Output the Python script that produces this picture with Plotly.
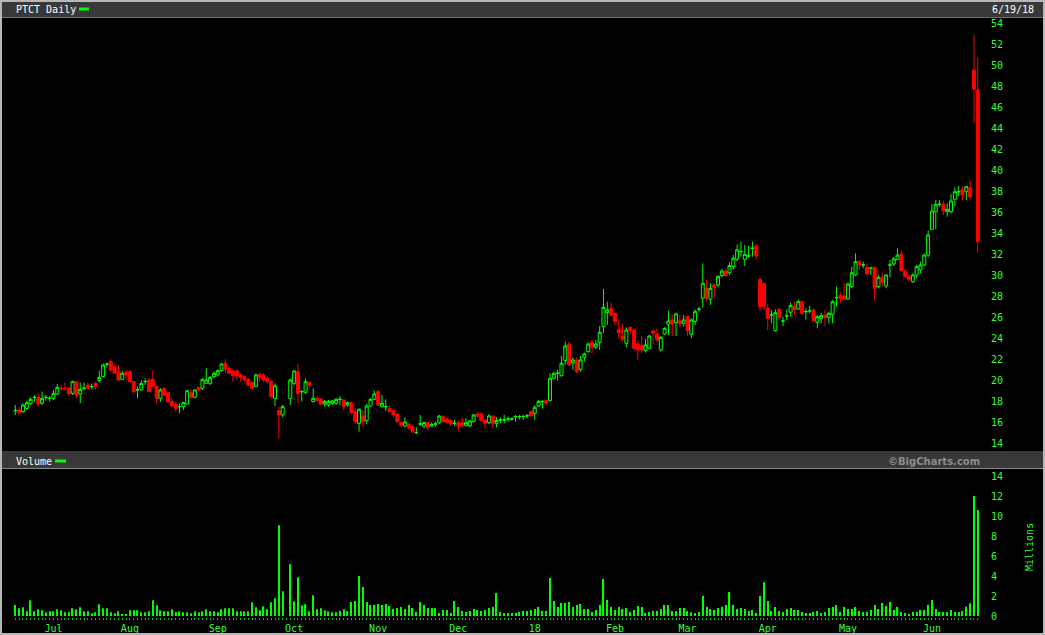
import pandas as pd
import plotly.graph_objects as go

# ---------------- data ----------------
HOLIDAYS = ["2017-07-04", "2017-09-04", "2017-11-23", "2017-12-25", "2018-01-01",
            "2018-01-15", "2018-02-19", "2018-03-30", "2018-05-28"]
dates = pd.bdate_range("2017-06-19", "2018-06-19", freq="C", holidays=HOLIDAYS)

opens = [
    17.06, 17.14, 16.98, 17.30, 17.78, 18.33, 18.35, 17.78, 18.33, 18.24,
    18.25, 18.67, 19.22, 19.22, 19.21, 18.73, 19.84, 18.67, 19.20, 19.52,
    19.36, 19.68, 19.94, 20.32, 21.50, 21.75, 21.27, 20.79, 20.06, 20.73,
    20.79, 19.84, 19.04, 19.05, 19.83, 20.00, 20.06, 19.37, 18.25, 19.21,
    18.79, 17.94, 17.71, 17.45, 17.46, 17.71, 18.79, 18.35, 19.27, 19.21,
    19.68, 19.68, 20.32, 20.48, 20.89, 21.59, 21.11, 20.86, 20.86, 20.51,
    20.32, 20.06, 19.75, 19.37, 20.54, 20.48, 20.16, 19.84, 18.25, 17.08,
    16.67, None, 18.25, 19.68, 20.79, 18.88, 18.79, 19.75, 17.94, 18.25,
    18.19, 17.71, 17.62, 17.78, 17.78, 18.15, 18.10, 17.62, 17.84, 16.98,
    15.87, 16.57, 16.13, 17.52, 18.16, 18.89, 17.46, 17.45, 17.30, 17.08,
    16.76, 15.94, 15.62, 15.81, 15.56, 14.98, 15.80, 15.62, 15.94, 15.62,
    15.80, 15.94, 16.51, 16.29, 16.13, 15.86, 15.94, 15.94, 15.68, 15.62,
    16.03, 16.76, 16.76, 16.19, 15.94, 16.57, 15.87, 16.18, 16.18, 16.28,
    16.27, 16.50, 16.50, 16.51, 16.57, 16.98, 16.83, 17.52, 17.93, 18.03,
    18.03, 20.16, 20.63, 20.41, 21.84, 23.43, 21.65, 21.91, 21.02, 22.16,
    22.70, 23.59, 23.12, 23.56, 25.08, 26.42, 26.83, 26.35, 24.83, 24.19,
    23.50, 25.02, 24.76, 23.43, 23.27, 22.80, 23.02, 24.67, 24.38, 22.86,
    24.38, 25.31, 25.72, 25.46, 25.62, 25.40, 26.04, 24.35, 25.56, 26.72,
    27.78, 28.73, 27.69, 29.05, 29.05, 29.94, 30.38, 30.20, 30.80, 31.50,
    32.22, 31.49, 31.80, 32.53, 32.76, 29.59, 29.21, 26.83, 26.19, 24.70,
    26.73, 25.61, 26.09, 26.45, 26.99, 26.76, 27.46, 26.50, 26.56, 26.67,
    25.49, 25.87, 26.19, 25.97, 26.26, 27.84, 28.03, 28.00, 27.72, 28.89,
    30.00, 31.27, 30.94, 30.73, 30.63, 30.73, 28.89, 29.78, 28.95, 30.94,
    31.05, 31.49, 32.00, 30.38, 29.84, 29.36, 30.00, 30.48, 30.95, 31.90,
    34.35, 36.03, 36.72, 36.76, 36.03, 36.03, 37.21, 37.92, 38.16, 37.94,
    38.32, 49.52, 47.62,
]
highs = [
    17.62, 17.46, 17.78, 18.03, 18.35, 18.57, 18.73, 18.89, 18.57, 18.48,
    19.05, 19.62, 19.52, 19.75, 19.37, 19.94, 19.90, 19.75, 19.75, 19.75,
    19.68, 19.84, 20.89, 21.59, 21.65, 21.97, 21.43, 21.43, 20.89, 20.95,
    20.95, 19.90, 19.37, 20.00, 20.16, 20.16, 20.89, 19.40, 19.21, 19.25,
    18.85, 18.25, 17.94, 17.78, 17.94, 19.05, 19.11, 19.11, 19.37, 20.16,
    21.11, 20.38, 20.79, 21.02, 21.65, 21.97, 21.27, 21.02, 21.02, 20.64,
    20.48, 20.16, 19.84, 20.64, 20.70, 20.64, 20.32, 20.00, 19.68, 17.46,
    17.62, None, 20.16, 20.95, 21.52, 19.05, 20.16, 19.84, 19.21, 18.41,
    18.25, 18.10, 18.10, 18.10, 18.25, 18.48, 18.15, 17.94, 17.94, 17.30,
    17.30, 17.14, 17.71, 18.25, 18.98, 19.05, 18.57, 18.16, 17.62, 17.21,
    16.80, 16.13, 16.44, 15.87, 15.71, 15.49, 16.67, 16.03, 16.03, 15.94,
    16.03, 16.67, 16.67, 16.44, 16.25, 16.19, 16.13, 16.44, 16.35, 16.19,
    16.76, 16.98, 16.89, 16.25, 16.76, 16.67, 16.44, 16.44, 16.67, 16.51,
    16.44, 16.67, 16.67, 16.67, 16.76, 17.14, 17.62, 18.10, 18.10, 18.16,
    20.64, 20.79, 20.95, 22.29, 23.65, 23.65, 22.16, 22.16, 22.29, 22.61,
    23.56, 23.81, 23.81, 25.15, 28.67, 27.46, 27.37, 26.51, 25.65, 25.34,
    25.02, 25.08, 24.92, 23.81, 24.19, 23.88, 24.29, 24.83, 24.92, 24.19,
    25.02, 26.61, 26.29, 26.42, 26.19, 26.19, 26.10, 25.88, 26.73, 26.99,
    31.10, 29.53, 29.21, 29.21, 30.00, 30.60, 30.60, 31.20, 31.90, 32.90,
    33.17, 32.86, 32.76, 33.17, 32.95, 29.68, 29.27, 27.24, 26.67, 26.73,
    26.83, 26.03, 26.67, 27.37, 27.46, 27.62, 27.56, 26.83, 27.05, 26.83,
    26.19, 26.41, 26.73, 26.51, 27.62, 28.89, 28.41, 29.27, 29.27, 30.79,
    32.06, 31.43, 31.27, 31.11, 30.79, 30.79, 30.00, 30.16, 30.05, 31.43,
    31.74, 32.54, 32.32, 30.63, 30.09, 30.16, 30.95, 31.27, 32.06, 34.22,
    36.76, 37.14, 37.14, 37.08, 36.82, 37.71, 38.35, 38.47, 38.47, 38.47,
    38.98, 52.86, 50.73,
]
lows = [
    16.67, 16.67, 16.89, 17.14, 17.62, 17.94, 17.46, 17.62, 18.03, 17.94,
    18.10, 18.57, 18.98, 19.05, 18.57, 18.57, 18.25, 17.78, 18.98, 19.11,
    19.11, 19.11, 19.75, 20.25, 21.27, 20.79, 20.60, 19.94, 20.00, 20.06,
    19.80, 18.79, 18.25, 19.00, 19.52, 18.85, 19.30, 17.78, 17.94, 18.41,
    17.78, 17.46, 16.98, 16.83, 17.14, 17.71, 18.25, 18.25, 18.89, 19.05,
    19.68, 19.52, 20.16, 20.32, 20.79, 20.64, 20.60, 19.84, 20.00, 19.84,
    19.84, 19.37, 19.05, 19.33, 19.84, 19.84, 19.68, 18.25, 17.52, 14.44,
    16.44, None, 17.62, 19.52, 17.84, 17.94, 18.73, 19.21, 17.84, 17.94,
    17.62, 17.46, 17.46, 17.62, 17.62, 17.62, 17.14, 17.46, 16.85, 15.87,
    15.08, 15.49, 15.81, 17.46, 18.10, 17.52, 17.40, 17.08, 16.89, 16.51,
    15.94, 15.49, 15.49, 15.30, 14.92, 14.83, 15.62, 15.40, 15.17, 15.56,
    15.56, 15.81, 15.94, 15.87, 15.62, 15.62, 15.08, 15.49, 15.56, 15.49,
    15.94, 16.44, 16.03, 15.40, 15.81, 15.49, 15.49, 15.87, 15.87, 16.03,
    16.13, 16.03, 16.25, 16.19, 16.35, 16.51, 16.19, 17.46, 17.30, 17.62,
    17.98, 20.06, 19.94, 20.32, 21.43, 21.33, 20.96, 20.64, 20.80, 21.75,
    22.61, 22.54, 22.92, 22.86, 24.45, 25.24, 26.04, 25.24, 23.97, 23.65,
    23.12, 24.45, 22.92, 21.91, 22.54, 22.61, 22.92, 23.43, 23.65, 22.70,
    24.29, 24.29, 24.19, 24.19, 25.02, 25.08, 24.19, 23.97, 25.24, 26.51,
    26.92, 27.46, 27.15, 27.78, 28.83, 29.78, 29.85, 30.00, 30.50, 31.30,
    31.74, 30.86, 31.68, 31.74, 31.49, 26.51, 26.67, 24.76, 25.40, 24.60,
    25.72, 25.14, 25.72, 26.03, 26.19, 26.67, 26.19, 25.78, 26.35, 25.56,
    24.92, 25.40, 25.14, 25.40, 25.40, 26.99, 27.30, 27.68, 27.62, 28.73,
    29.90, 30.48, 30.63, 29.90, 30.00, 27.55, 28.73, 28.89, 28.73, 29.78,
    30.86, 31.43, 30.32, 29.78, 29.36, 29.27, 29.68, 30.16, 30.86, 31.68,
    34.28, 34.35, 36.51, 35.71, 35.55, 35.87, 36.57, 37.52, 37.08, 37.14,
    37.21, 44.45, 32.13,
]
closes = [
    17.10, 16.89, 17.62, 17.84, 18.16, 18.35, 17.71, 18.25, 18.35, 18.26,
    18.73, 19.30, 19.20, 19.20, 18.67, 19.84, 18.57, 19.11, 19.22, 19.21,
    19.38, 19.37, 20.25, 21.43, 21.52, 20.95, 20.64, 20.00, 20.64, 20.48,
    19.84, 18.89, 19.06, 19.68, 19.85, 18.89, 19.37, 18.25, 19.05, 18.57,
    17.94, 17.52, 17.30, 17.47, 17.84, 18.98, 18.35, 19.05, 19.05, 20.06,
    20.00, 20.25, 20.64, 20.89, 21.52, 21.02, 20.64, 20.41, 20.41, 20.25,
    20.00, 19.52, 19.21, 20.48, 20.22, 20.00, 19.84, 18.41, 19.43, 16.67,
    17.46, None, 20.00, 20.86, 18.73, 18.90, 19.84, 19.52, 18.25, 18.03,
    17.71, 17.94, 17.94, 18.00, 18.16, 18.17, 17.46, 17.84, 16.89, 16.03,
    17.21, 16.03, 17.52, 18.16, 18.67, 17.62, 17.78, 17.47, 16.98, 16.67,
    16.03, 15.71, 16.00, 15.49, 15.08, 15.00, 15.82, 15.94, 15.49, 15.78,
    15.82, 16.57, 16.03, 15.97, 15.81, 15.88, 15.62, 15.62, 15.94, 16.10,
    16.67, 16.57, 16.13, 15.87, 16.57, 15.87, 16.13, 16.20, 16.20, 16.30,
    16.29, 16.52, 16.52, 16.53, 16.59, 16.57, 17.40, 17.94, 17.95, 17.78,
    20.16, 20.64, 20.65, 21.59, 23.24, 21.43, 21.91, 20.80, 21.91, 22.48,
    23.43, 23.12, 23.43, 24.54, 26.92, 26.67, 26.19, 25.56, 24.51, 23.88,
    24.76, 24.70, 23.02, 22.86, 22.86, 23.34, 24.19, 24.45, 23.81, 24.07,
    24.92, 25.62, 25.34, 26.29, 25.34, 25.72, 24.70, 25.72, 26.51, 26.74,
    29.21, 27.78, 28.73, 28.83, 29.85, 30.38, 29.94, 30.90, 31.60, 32.40,
    32.24, 31.97, 31.82, 32.55, 31.81, 26.99, 26.99, 25.87, 26.21, 26.41,
    25.97, 25.63, 26.11, 27.08, 26.67, 27.46, 26.35, 26.52, 26.58, 25.65,
    26.03, 26.13, 25.94, 26.35, 27.46, 27.86, 27.78, 27.68, 29.14, 30.22,
    31.27, 30.95, 30.96, 30.10, 30.65, 28.73, 29.78, 29.30, 30.00, 30.96,
    31.52, 31.90, 30.41, 29.84, 29.59, 30.00, 30.79, 30.95, 31.90, 33.81,
    36.09, 36.73, 36.74, 36.13, 36.25, 37.05, 37.93, 37.94, 37.62, 38.41,
    37.46, 47.71, 33.17,
]
volume_m = [
    1.10, 0.77, 0.87, 0.47, 1.57, 0.47, 0.67, 0.57, 0.37, 0.47,
    0.47, 0.67, 0.57, 0.37, 0.37, 0.77, 0.67, 0.87, 0.47, 0.47,
    0.27, 0.37, 1.17, 0.77, 0.77, 0.37, 0.27, 0.47, 0.17, 0.17,
    0.57, 0.57, 0.57, 0.37, 0.37, 0.47, 1.57, 1.07, 0.57, 0.47,
    0.47, 0.67, 0.37, 0.47, 0.37, 0.37, 0.27, 0.47, 0.37, 0.47,
    0.67, 0.47, 0.47, 0.37, 0.67, 0.77, 0.77, 0.77, 0.47, 0.47,
    0.47, 0.47, 1.37, 0.87, 0.57, 0.97, 0.67, 1.37, 1.77, 9.07,
    2.47, None, 5.17, 1.47, 3.87, 1.07, 1.17, 0.47, 2.07, 0.67,
    0.77, 0.57, 0.47, 0.37, 0.37, 0.50, 0.67, 0.50, 1.40, 1.50,
    4.00, 2.90, 1.40, 1.10, 1.10, 1.20, 1.10, 1.20, 1.00, 0.70,
    0.80, 0.90, 0.70, 1.10, 0.80, 0.40, 1.40, 1.10, 0.80, 0.80,
    0.80, 0.30, 0.60, 0.60, 0.30, 1.50, 0.90, 0.50, 0.40, 0.50,
    0.70, 0.60, 0.50, 0.60, 0.80, 0.90, 2.30, 0.40, 0.30, 0.30,
    0.30, 0.30, 0.40, 0.50, 0.50, 0.60, 0.70, 0.90, 0.50, 0.50,
    3.80, 1.50, 0.90, 1.30, 1.30, 1.40, 0.90, 1.10, 1.20, 0.70,
    0.70, 0.40, 0.60, 1.10, 3.70, 1.60, 0.90, 0.60, 0.90, 0.70,
    0.80, 0.40, 0.60, 1.00, 0.90, 0.30, 0.40, 0.50, 0.50, 0.70,
    1.10, 1.10, 0.50, 0.50, 0.80, 0.80, 0.50, 0.37, 0.30, 0.40,
    2.03, 0.90, 0.70, 0.60, 0.80, 0.93, 1.10, 2.40, 1.10, 0.70,
    0.80, 0.70, 0.50, 0.60, 0.30, 2.00, 3.37, 1.50, 0.50, 0.90,
    0.50, 0.40, 0.70, 0.80, 0.60, 0.60, 0.40, 0.30, 0.30, 0.40,
    0.50, 0.30, 0.40, 0.80, 0.90, 1.10, 0.40, 0.90, 0.70, 0.70,
    0.90, 0.50, 0.40, 0.40, 0.60, 1.10, 0.70, 1.30, 1.00, 1.40,
    0.60, 0.90, 0.40, 0.30, 0.20, 0.40, 0.40, 0.60, 0.60, 1.10,
    1.60, 0.70, 0.40, 0.40, 0.40, 0.60, 0.40, 0.40, 0.50, 0.93,
    1.27, 12.00, 10.60,
]
price_ticks = list(range(14, 55, 2))
volume_ticks = list(range(0, 15, 2))
title_text = "PTCT Daily"
date_text = "6/19/18"

# ---------------- geometry helpers ----------------
W, H = 1045, 635
def px(x):
    return x / W
def py(y):
    return 1 - y / H

idx = list(range(len(opens)))
n = min(len(dates), len(idx))

# daily ticks with month labels
tickvals, ticktext = [], []
for i in idx:
    tickvals.append(i)
    label = ""
    if 0 < i < n and dates[i].month != dates[i - 1].month:
        label = "18" if dates[i].month == 1 else dates[i].strftime("%b")
    ticktext.append(label)

GREEN = "#00ff00"
TXT_GREEN = "#33ff33"
RED = "#ff0000"
MONO = "DejaVu Sans Mono"

fig = go.Figure()
fig.add_trace(go.Candlestick(
    x=idx, open=opens, high=highs, low=lows, close=closes,
    increasing=dict(line=dict(color=GREEN, width=1), fillcolor="#000000"),
    decreasing=dict(line=dict(color=RED, width=1), fillcolor=RED),
    whiskerwidth=0, hoverinfo="skip", xaxis="x", yaxis="y",
))
fig.add_trace(go.Bar(
    x=idx, y=volume_m, width=0.32, marker=dict(color=GREEN, line=dict(width=0)),
    xaxis="x2", yaxis="y2", hoverinfo="skip",
))

xr = [-2.7, 255.2]
xdom = [px(5), px(990)]

fig.update_layout(
    width=W, height=H, autosize=False,
    margin=dict(l=0, r=0, t=0, b=0, pad=0, autoexpand=False),
    paper_bgcolor="#000000", plot_bgcolor="#000000",
    showlegend=False, boxgap=0.22, boxgroupgap=0,
    font=dict(family=MONO, size=10, color=TXT_GREEN),
    xaxis=dict(domain=xdom, range=xr, anchor="y", showticklabels=False, ticks="",
               showgrid=False, zeroline=False, showline=False, automargin=False,
               rangeslider=dict(visible=False)),
    yaxis=dict(domain=[py(451), py(18)], range=[13.238, 54.476], side="right",
               tickvals=price_ticks, ticks="", showgrid=False, zeroline=False,
               showline=False, automargin=False,
               tickfont=dict(family=MONO, size=10, color=TXT_GREEN)),
    xaxis2=dict(domain=xdom, range=xr, anchor="y2", tickmode="array",
                tickvals=tickvals, ticktext=ticktext, ticks="outside", ticklen=2,
                tickwidth=1, tickcolor="#00c800", showgrid=False, zeroline=False,
                showline=False, tickangle=0, automargin=False,
                tickfont=dict(family=MONO, size=10, color=TXT_GREEN)),
    yaxis2=dict(domain=[py(617), py(469)], range=[-0.1, 14.7], side="right",
                tickvals=volume_ticks, ticks="", showgrid=False, zeroline=False,
                showline=False, anchor="x2", automargin=False,
                tickfont=dict(family=MONO, size=10, color=TXT_GREEN)),
)

shapes = [
    # header strips
    dict(type="rect", x0=px(2), x1=px(1043), y0=py(17), y1=py(2),
         fillcolor="#383838", line=dict(width=0)),
    dict(type="line", x0=px(2), x1=px(1043), y0=py(17.5), y1=py(17.5),
         line=dict(color="#6e6e6e", width=1)),
    dict(type="rect", x0=px(2), x1=px(1043), y0=py(468), y1=py(451),
         fillcolor="#383838", line=dict(width=0)),
    dict(type="line", x0=px(2), x1=px(1043), y0=py(468.5), y1=py(468.5),
         line=dict(color="#8a8a8a", width=1)),
    # legend dashes
    dict(type="rect", x0=px(79), x1=px(89), y0=py(10.5), y1=py(7.5),
         fillcolor=GREEN, line=dict(width=0)),
    dict(type="rect", x0=px(55), x1=px(66), y0=py(462.5), y1=py(459.5),
         fillcolor=GREEN, line=dict(width=0)),
    # outer border
    dict(type="rect", x0=px(1), x1=px(1044), y0=py(634), y1=py(1),
         line=dict(color="#b8b8b8", width=2), fillcolor="rgba(0,0,0,0)"),
]
for s in shapes:
    s["xref"] = "paper"
    s["yref"] = "paper"
fig.update_layout(shapes=shapes)

annos = [
    dict(text=title_text, x=px(14), y=py(9.5), xanchor="left", yanchor="middle",
         font=dict(family=MONO, size=10, color="#ffffff")),
    dict(text=date_text, x=px(1036), y=py(9.5), xanchor="right", yanchor="middle",
         font=dict(family=MONO, size=10, color="#ffffff")),
    dict(text="Volume", x=px(14), y=py(461), xanchor="left", yanchor="middle",
         font=dict(family=MONO, size=10, color="#ffffff")),
    dict(text="\u00a9BigCharts.com", x=px(982), y=py(461.5), xanchor="right",
         yanchor="middle",
         font=dict(family="DejaVu Sans", size=10, color="#8c8c8c", weight="bold")),
    dict(text="Millions", x=px(1029), y=py(547), xanchor="center", yanchor="middle",
         textangle=-90, font=dict(family=MONO, size=10, color=TXT_GREEN)),
]
for a in annos:
    a["xref"] = "paper"
    a["yref"] = "paper"
    a["showarrow"] = False
fig.update_layout(annotations=annos)

fig.write_html(
    "out.html",
    config={"displayModeBar": False, "responsive": False},
    post_script=("document.documentElement.style.margin='0';"
                 "document.body.style.margin='0';document.body.style.padding='0';"
                 "document.body.style.overflow='hidden';"),
)
